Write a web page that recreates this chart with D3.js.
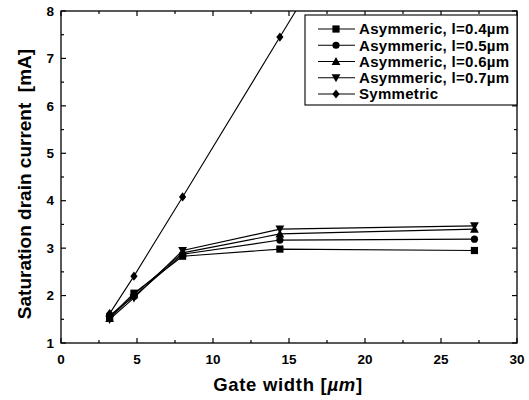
<!DOCTYPE html>
<html>
<head>
<meta charset="utf-8">
<script src="https://cdn.jsdelivr.net/npm/d3@7"></script>
<style>
  body { margin: 0; background: #fff; }
  svg { display: block; font-family: "Liberation Sans", Arial, sans-serif; }
</style>
</head>
<body>
<div id="chart"></div>
<script>
// Gate widths (µm)
const gateWidth = [3.2, 4.8, 8.0, 14.4, 27.2];

// Saturation drain current (mA)
const asym04 = [1.55, 2.05, 2.83, 2.98, 2.95];
const asym05 = [1.58, 1.98, 2.87, 3.17, 3.19];
const asym06 = [1.52, 2.02, 2.90, 3.30, 3.40];
const asym07 = [1.50, 1.95, 2.95, 3.40, 3.47];
const symm   = [1.62, 2.41, 4.08, 7.45, 14.2];

const seriesNames = [
  'Asymmeric, l=0.4\u00b5m',
  'Asymmeric, l=0.5\u00b5m',
  'Asymmeric, l=0.6\u00b5m',
  'Asymmeric, l=0.7\u00b5m',
  'Symmetric'
];
const seriesValues = [asym04, asym05, asym06, asym07, symm];
const markerKinds = ['square', 'circle', 'up', 'down', 'diamond'];

const xTicks = [0, 5, 10, 15, 20, 25, 30];
const yTicks = [1, 2, 3, 4, 5, 6, 7, 8];

const width = 529, height = 400;
const margin = { left: 61, right: 12, top: 11, bottom: 57 };

const svg = d3.select('#chart').append('svg')
  .attr('width', width).attr('height', height);

const x = d3.scaleLinear().domain([0, 30]).range([margin.left, width - margin.right]);
const y = d3.scaleLinear().domain([1, 8]).range([height - margin.bottom, margin.top]);

// clip for data
svg.append('clipPath').attr('id', 'plot-clip')
  .append('rect')
  .attr('x', x(0)).attr('y', y(8))
  .attr('width', x(30) - x(0)).attr('height', y(1) - y(8));

// frame
svg.append('rect')
  .attr('x', x(0)).attr('y', y(8))
  .attr('width', x(30) - x(0)).attr('height', y(1) - y(8))
  .attr('fill', 'none').attr('stroke', '#000').attr('stroke-width', 1.3);

// inward ticks on all four sides
const tickG = svg.append('g').attr('stroke', '#000').attr('stroke-width', 1.2);
d3.range(0, 30.01, 2.5).forEach(v => {
  const len = v % 5 === 0 ? 5 : 3;
  tickG.append('line').attr('x1', x(v)).attr('x2', x(v)).attr('y1', y(1)).attr('y2', y(1) - len);
  tickG.append('line').attr('x1', x(v)).attr('x2', x(v)).attr('y1', y(8)).attr('y2', y(8) + len);
});
d3.range(1, 8.01, 0.5).forEach(v => {
  const len = v % 1 === 0 ? 5 : 3;
  tickG.append('line').attr('x1', x(0)).attr('x2', x(0) + len).attr('y1', y(v)).attr('y2', y(v));
  tickG.append('line').attr('x1', x(30)).attr('x2', x(30) - len).attr('y1', y(v)).attr('y2', y(v));
});

// tick labels
svg.append('g').selectAll('text').data(xTicks).join('text')
  .attr('x', d => x(d)).attr('y', y(1) + 21)
  .attr('text-anchor', 'middle')
  .attr('font-size', 13.5).attr('font-weight', 'bold')
  .text(d => d);

svg.append('g').selectAll('text').data(yTicks).join('text')
  .attr('x', x(0) - 7).attr('y', d => y(d))
  .attr('dy', '0.35em')
  .attr('text-anchor', 'end')
  .attr('font-size', 13.5).attr('font-weight', 'bold')
  .text(d => d);

// axis titles
const xTitle = svg.append('text')
  .attr('x', 288).attr('y', 391)
  .attr('text-anchor', 'middle')
  .attr('font-size', 18.5).attr('font-weight', 'bold')
  .attr('letter-spacing', 0.7);
xTitle.append('tspan').text('Gate width [');
xTitle.append('tspan').attr('font-style', 'italic').text('\u00b5m');
xTitle.append('tspan').text(']');

svg.append('text')
  .attr('transform', `translate(31, 184) rotate(-90)`)
  .attr('text-anchor', 'middle')
  .attr('font-size', 19).attr('font-weight', 'bold')
  .attr('xml:space', 'preserve')
  .text('Saturation drain current  [mA]');

// marker drawing helper
function drawMarker(g, kind, cx, cy) {
  const s = 3.6;
  if (kind === 'square') {
    g.append('rect').attr('x', cx - s).attr('y', cy - s).attr('width', 2 * s).attr('height', 2 * s);
  } else if (kind === 'circle') {
    g.append('circle').attr('cx', cx).attr('cy', cy).attr('r', s);
  } else if (kind === 'up') {
    g.append('path').attr('d', `M${cx},${cy - s - 1}L${cx + s + 0.8},${cy + s}L${cx - s - 0.8},${cy + s}Z`);
  } else if (kind === 'down') {
    g.append('path').attr('d', `M${cx},${cy + s + 1}L${cx + s + 0.8},${cy - s}L${cx - s - 0.8},${cy - s}Z`);
  } else {
    g.append('path').attr('d', `M${cx},${cy - s - 1}L${cx + s},${cy}L${cx},${cy + s + 1}L${cx - s},${cy}Z`);
  }
}

const line = d3.line().x(d => x(d[0])).y(d => y(d[1]));
const dataG = svg.append('g').attr('clip-path', 'url(#plot-clip)');

seriesValues.forEach((vals, i) => {
  const pts = gateWidth.map((w, j) => [w, vals[j]]);
  dataG.append('path').datum(pts)
    .attr('d', line)
    .attr('fill', 'none').attr('stroke', '#000').attr('stroke-width', 1.1);
  const mg = dataG.append('g').attr('fill', '#000');
  pts.forEach(p => drawMarker(mg, markerKinds[i], x(p[0]), y(p[1])));
});

// legend
const lx = 305, ly = 15, lw = x(30) - 305, lh = 90;
svg.append('rect')
  .attr('x', lx).attr('y', ly).attr('width', lw).attr('height', lh)
  .attr('fill', '#fff').attr('stroke', '#000').attr('stroke-width', 1.1);

const rowY = d3.scalePoint().domain(d3.range(seriesNames.length)).range([29, 94]);
seriesNames.forEach((name, i) => {
  const yy = rowY(i);
  const g = svg.append('g');
  g.append('line').attr('x1', 318).attr('x2', 355).attr('y1', yy).attr('y2', yy)
    .attr('stroke', '#000').attr('stroke-width', 1.1);
  drawMarker(g.append('g').attr('fill', '#000'), markerKinds[i], 336, yy);
  g.append('text')
    .attr('x', 359).attr('y', yy).attr('dy', '0.36em')
    .attr('font-size', 15).attr('font-weight', 'bold')
    .attr('letter-spacing', 0.3)
    .text(name);
});
</script>
</body>
</html>
